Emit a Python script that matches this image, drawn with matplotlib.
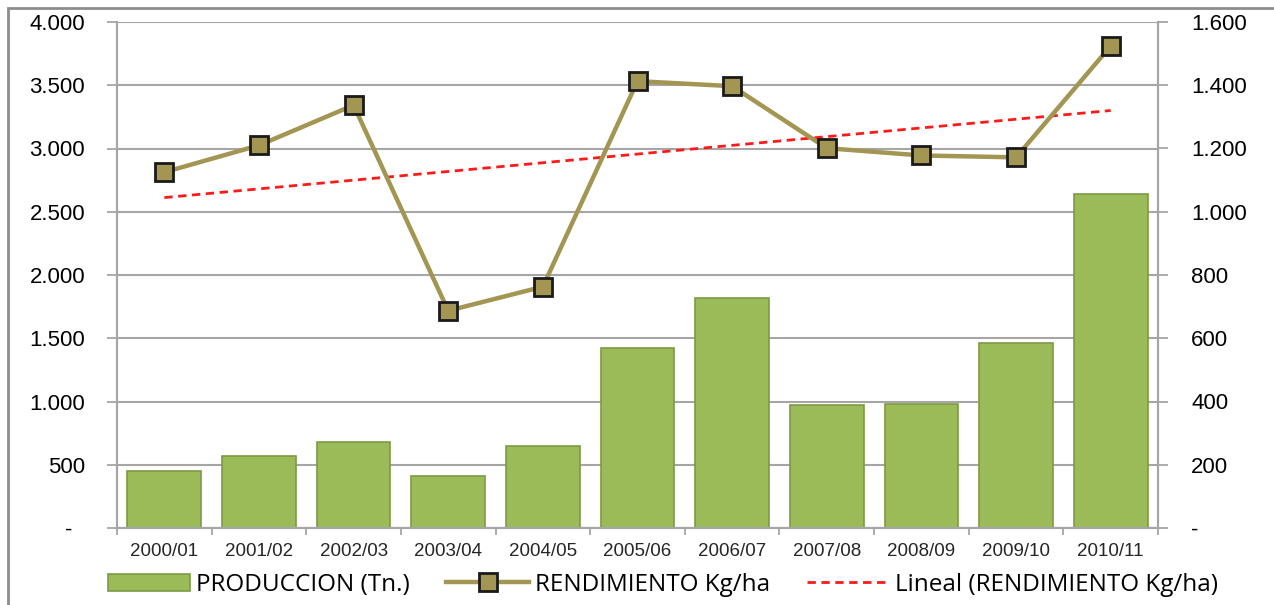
import numpy as np
import matplotlib
matplotlib.use("Agg")
import matplotlib.pyplot as plt
from matplotlib.patches import Rectangle
from matplotlib.ticker import FixedLocator, FuncFormatter

campanias = ["2000/01", "2001/02", "2002/03", "2003/04", "2004/05", "2005/06",
             "2006/07", "2007/08", "2008/09", "2009/10", "2010/11"]
produccion = [450, 570, 680, 410, 650, 1420, 1820, 975, 980, 1465, 2640]
rendimiento = [1125, 1210, 1337, 687, 763, 1413, 1397, 1201, 1178, 1172, 1524]

GRIS = "#A6A6A6"
VERDE = "#9BBB59"
OLIVA = "#A39552"


def miles(v, pos):
    # formato con punto de miles, el cero como guion
    if v == 0:
        return "-  "
    return f"{int(v):,}".replace(",", ".")


def miles_der(v, pos):
    if v == 0:
        return "-"
    return f"{int(v):,}".replace(",", ".")


plt.rcParams["font.family"] = ["Liberation Sans", "DejaVu Sans"]

fig = plt.figure(figsize=(12.74, 6.05), dpi=100)
ax = fig.add_axes([117 / 1274, 1 - 528 / 605, (1158 - 117) / 1274, (528 - 22) / 605])
ax2 = ax.twinx()

x = np.arange(len(campanias))

barras = ax.bar(x, produccion, width=0.78, color=VERDE, edgecolor="#7E9A45",
                linewidth=1.2, label="PRODUCCION (Tn.)", zorder=2)

linea, = ax2.plot(x, rendimiento, color=OLIVA, lw=3.2, marker="s", ms=13,
                  mfc=OLIVA, mec="#1a1a1a", mew=2, label="RENDIMIENTO Kg/ha", zorder=4)

# tendencia lineal del rendimiento
m, b = np.polyfit(x, rendimiento, 1)
tend, = ax2.plot(x, m * x + b, color="#FF1A1A", lw=2, ls=(0, (3, 2)),
                 label="Lineal (RENDIMIENTO Kg/ha)", zorder=3)

ax.set_xlim(-0.5, len(campanias) - 0.5)
ax.set_ylim(0, 4000)
ax2.set_ylim(0, 1600)
ax.yaxis.set_major_locator(FixedLocator(np.arange(0, 4001, 500)))
ax2.yaxis.set_major_locator(FixedLocator(np.arange(0, 1601, 200)))
ax.yaxis.set_major_formatter(FuncFormatter(miles))
ax2.yaxis.set_major_formatter(FuncFormatter(miles_der))

ax.set_xticks(x)
ax.set_xticklabels(campanias)
ax.set_xticks(np.arange(-0.5, len(campanias)), minor=True)
ax.tick_params(axis="x", which="major", length=0, pad=11, labelsize=13.5, labelcolor="#262626")
ax.tick_params(axis="x", which="minor", length=5, color=GRIS, width=1.3)

ax.grid(axis="y", color=GRIS, lw=1.5, zorder=0)
ax.set_axisbelow(True)
ax.tick_params(axis="y", length=7, color=GRIS, width=1.3, pad=16, labelsize=16)
ax2.tick_params(axis="y", length=7, color=GRIS, width=1.3, pad=17, labelsize=16)

for a in (ax, ax2):
    a.spines["top"].set_visible(False)
    for s in ("left", "right", "bottom"):
        a.spines[s].set_color(GRIS)
        a.spines[s].set_linewidth(1.5)
ax.patch.set_visible(False)
ax2.set_zorder(ax.get_zorder() + 1)
ax2.patch.set_visible(False)

# marco gris del grafico
fig.patches.append(Rectangle((8 / 1274, -0.1), 1.2, 1 - 8 / 605 + 0.1,
                             transform=fig.transFigure, fill=False,
                             edgecolor="#8C8C8C", lw=2))

fig.legend(handles=[barras, linea, tend], loc="center", ncol=3,
           bbox_to_anchor=(663 / 1274, 1 - 585 / 605), frameon=False,
           prop={"family": ["Open Sans", "DejaVu Sans"], "size": 17.5},
           handlelength=3.4, handleheight=0.7, handletextpad=0.25,
           columnspacing=1.5, borderaxespad=0)

fig.savefig("out.png", dpi=100)
